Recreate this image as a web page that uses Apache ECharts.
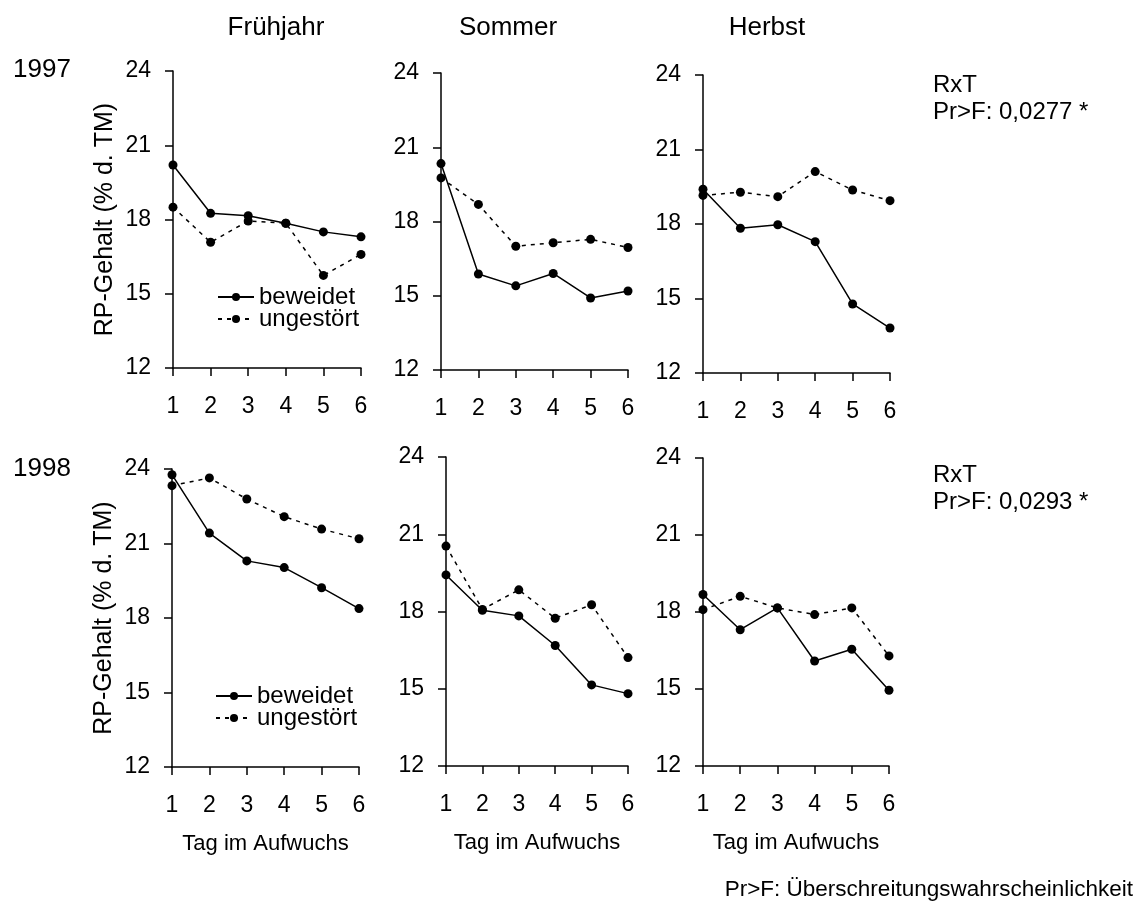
<!DOCTYPE html>
<html>
<head>
<meta charset="utf-8">
<script src="https://cdn.jsdelivr.net/npm/echarts@6/dist/echarts.min.js"></script>
<style>
html,body{margin:0;padding:0;background:#fff;}
#chart{width:1141px;height:906px;}
</style>
</head>
<body>
<div id="chart"></div>
<script>
const days = [1, 2, 3, 4, 5, 6];
const seasons = ['Frühjahr', 'Sommer', 'Herbst'];
const years = ['1997', '1998'];
const yTicks = [12, 15, 18, 21, 24];
const seriesNames = ['beweidet', 'ungestört'];

const b97F = [20.2, 18.25, 18.15, 17.85, 17.5, 17.3];
const u97F = [18.5, 17.08, 17.94, 17.85, 15.74, 16.59];
const b97S = [20.34, 15.88, 15.4, 15.9, 14.91, 15.19];
const u97S = [19.76, 18.69, 17.0, 17.14, 17.28, 16.95];
const b97H = [19.4, 17.83, 17.97, 17.29, 14.78, 13.81];
const u97H = [19.15, 19.28, 19.1, 20.11, 19.37, 18.94];
const b98F = [23.77, 21.42, 20.3, 20.03, 19.22, 18.38];
const u98F = [23.33, 23.64, 22.79, 22.08, 21.58, 21.19];
const b98S = [19.42, 18.05, 17.83, 16.68, 15.15, 14.81];
const u98S = [20.54, 18.08, 18.84, 17.74, 18.26, 16.21];
const b98H = [18.68, 17.31, 18.16, 16.09, 16.55, 14.95];
const u98H = [18.09, 18.61, 18.16, 17.9, 18.16, 16.29];

const stats = ['RxT\nPr>F: 0,0277 *', 'RxT\nPr>F: 0,0293 *'];
const footnote = 'Pr>F: Überschreitungswahrscheinlichkeit';
const yName = 'RP-Gehalt (% d. TM)';
const xName = 'Tag im Aufwuchs';

const panels = [
  {b: b97F, u: u97F, grid: {left: 173, top: 71, width: 188, height: 297}},
  {b: b97S, u: u97S, grid: {left: 441, top: 73, width: 187, height: 297}},
  {b: b97H, u: u97H, grid: {left: 703, top: 75, width: 187, height: 298}},
  {b: b98F, u: u98F, grid: {left: 172, top: 469, width: 187, height: 298}},
  {b: b98S, u: u98S, grid: {left: 446, top: 457, width: 182, height: 309}},
  {b: b98H, u: u98H, grid: {left: 703, top: 458, width: 186, height: 308}}
];

const FONT = 'Liberation Sans, Arial, sans-serif';
const FS = 24;
const TICK_FS = 23;
const axisLineStyle = {color: '#000', width: 1.5};

const grids = [], xAxes = [], yAxes = [], series = [];
panels.forEach((p, i) => {
  grids.push(Object.assign({containLabel: false}, p.grid));
  const bottomRow = i >= 3;
  xAxes.push({
    type: 'value', gridIndex: i, min: 1, max: 6, interval: 1,
    axisLine: {show: true, onZero: false, lineStyle: axisLineStyle},
    axisTick: {show: true, length: 8, lineStyle: axisLineStyle},
    splitLine: {show: false},
    axisLabel: {color: '#000', fontSize: TICK_FS, fontFamily: FONT, margin: 27},
    name: bottomRow ? xName : '',
    nameLocation: 'middle', nameGap: 66,
    nameTextStyle: {color: '#000', fontSize: 22, fontFamily: FONT}
  });
  yAxes.push({
    type: 'value', gridIndex: i, min: 12, max: 24, interval: 3,
    axisLine: {show: true, onZero: false, lineStyle: axisLineStyle},
    axisTick: {show: true, length: 8, lineStyle: axisLineStyle},
    splitLine: {show: false},
    axisLabel: {color: '#000', fontSize: TICK_FS, fontFamily: FONT, margin: 22},
    name: (i % 3 === 0) ? yName : '',
    nameLocation: 'middle', nameGap: 55, nameRotate: 90,
    nameTextStyle: {color: '#000', fontSize: 25, fontFamily: FONT}
  });
  [[seriesNames[0], p.b, 'solid'], [seriesNames[1], p.u, [4, 5]]].forEach(([nm, vals, type]) => {
    series.push({
      type: 'line', name: nm, xAxisIndex: i, yAxisIndex: i,
      data: days.map((d, j) => [d, vals[j]]),
      symbol: 'circle', symbolSize: 9, showSymbol: true, clip: false,
      color: '#000',
      itemStyle: {color: '#000'},
      lineStyle: {color: '#000', width: 1.5, type: type},
      emphasis: {disabled: true},
      z: nm === 'beweidet' ? 3 : 2
    });
  });
});

const legendCommon = {
  orient: 'vertical', itemWidth: 36, itemHeight: 10, itemGap: -2,
  data: seriesNames, selectedMode: false,
  textStyle: {color: '#000', fontSize: FS, fontFamily: FONT}
};

const graphics = [];
const titleX = [276, 508, 767];
seasons.forEach((s, i) => graphics.push({
  type: 'text', x: titleX[i], y: 28, style: {text: s, font: '26px ' + FONT, fill: '#000', align: 'center', verticalAlign: 'middle'}
}));
[70, 469].forEach((y, i) => graphics.push({
  type: 'text', x: 13, y: y, style: {text: years[i], font: '26px ' + FONT, fill: '#000', verticalAlign: 'middle'}
}));
[72, 462].forEach((y, i) => graphics.push({
  type: 'text', x: 933, y: y, style: {text: stats[i], font: FS + 'px ' + FONT, fill: '#000', lineHeight: 27, verticalAlign: 'top'}
}));
graphics.push({
  type: 'text', x: 1133, y: 890, style: {text: footnote, font: '22.5px ' + FONT, fill: '#000', align: 'right', verticalAlign: 'middle'}
});

const chart = echarts.init(document.getElementById('chart'), null, {renderer: 'canvas'});
chart.setOption({
  backgroundColor: '#fff',
  animation: false,
  grid: grids, xAxis: xAxes, yAxis: yAxes, series: series,
  legend: [
    Object.assign({left: 212, top: 280}, legendCommon),
    Object.assign({left: 210, top: 679}, legendCommon)
  ],
  graphic: graphics
});
</script>
</body>
</html>
